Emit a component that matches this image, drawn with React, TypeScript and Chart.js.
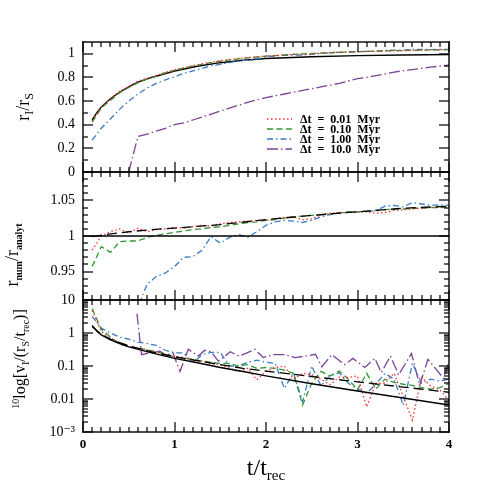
import React, { useEffect, useRef } from 'react';
import { Chart, registerables } from 'chart.js';

Chart.register(...registerables);

// ---------- data ----------
const T = [0.1, 0.2, 0.3, 0.4, 0.5, 0.6, 0.7, 0.8, 0.9, 1.0, 1.1, 1.2, 1.3, 1.4, 1.5, 1.6, 1.7, 1.8, 1.9, 2.0,
  2.1, 2.2, 2.3, 2.4, 2.5, 2.6, 2.7, 2.8, 2.9, 3.0, 3.1, 3.2, 3.3, 3.4, 3.5, 3.6, 3.7, 3.8, 3.9, 4.0];
const T_PURPLE = [0.5, 0.6, 0.7, 0.8, 0.9, 1.0, 1.1, 1.2, 1.3, 1.4, 1.5, 1.6, 1.7, 1.8, 1.9, 2.0,
  2.1, 2.2, 2.3, 2.4, 2.5, 2.6, 2.7, 2.8, 2.9, 3.0, 3.1, 3.2, 3.3, 3.4, 3.5, 3.6, 3.7, 3.8, 3.9, 4.0];

const LEGEND_LABELS = ['\u0394t = 0.01 Myr', '\u0394t = 0.10 Myr', '\u0394t = 1.00 Myr', '\u0394t = 10.0 Myr'];

// top panel: r_I / r_S
const R_ANALYTIC_T = [0.1, 0.15, 0.2, 0.3, 0.4, 0.5, 0.6, 0.75, 1.0, 1.25, 1.5, 1.75, 2.0, 2.5, 3.0, 3.5, 4.0];
const R_ANALYTIC = [0.44, 0.5, 0.55, 0.62, 0.675, 0.72, 0.76, 0.8, 0.855, 0.895, 0.925, 0.945, 0.96, 0.975, 0.985, 0.99, 0.994];
const RED_R = [0.431, 0.55, 0.624, 0.682, 0.723, 0.768, 0.792, 0.817, 0.843, 0.865, 0.882, 0.9, 0.916, 0.928, 0.941, 0.952,
  0.961, 0.968, 0.975, 0.981, 0.986, 0.991, 0.995, 0.994, 0.998, 1.006, 1.01, 1.013, 1.015, 1.018, 1.02, 1.02, 1.022,
  1.025, 1.027, 1.029, 1.031, 1.033, 1.034, 1.036];
const GREEN_R = [0.421, 0.542, 0.606, 0.67, 0.715, 0.755, 0.785, 0.811, 0.838, 0.859, 0.878, 0.896, 0.911, 0.926, 0.937,
  0.948, 0.958, 0.966, 0.973, 0.981, 0.985, 0.99, 0.995, 0.999, 1.003, 1.006, 1.009, 1.013, 1.016, 1.018, 1.021, 1.023,
  1.025, 1.027, 1.028, 1.03, 1.031, 1.033, 1.033, 1.035];
const BLUE_R = [0.27, 0.37, 0.45, 0.53, 0.6, 0.66, 0.71, 0.75, 0.78, 0.805, 0.835, 0.855, 0.875, 0.9, 0.91, 0.925, 0.94,
  0.945, 0.958, 0.974, 0.982, 0.987, 0.989, 0.99, 0.996, 1.003, 1.008, 1.013, 1.015, 1.018, 1.02, 1.021, 1.029, 1.032,
  1.031, 1.038, 1.037, 1.036, 1.037, 1.037];
const PURPLE_R = [0.0, 0.3, 0.32, 0.345, 0.37, 0.4, 0.415, 0.44, 0.465, 0.49, 0.515, 0.54, 0.565, 0.59, 0.61, 0.63, 0.645,
  0.66, 0.675, 0.69, 0.705, 0.72, 0.735, 0.75, 0.77, 0.79, 0.8, 0.815, 0.83, 0.845, 0.857, 0.867, 0.877, 0.887, 0.896, 0.905];

// middle panel: r_num / r_analyt
const UNITY_T = [0, 4];
const UNITY = [1, 1];
const Q_DASH_T = [0.1, 0.25, 0.5, 0.75, 1.0, 1.5, 2.0, 2.5, 3.0, 3.5, 4.0];
const Q_DASH = [0.999, 1.002, 1.006, 1.009, 1.011, 1.016, 1.023, 1.029, 1.034, 1.039, 1.042];
const RED_Q = [0.98, 1.0, 1.006, 1.01, 1.004, 1.011, 1.006, 1.009, 1.01, 1.012, 1.011, 1.013, 1.015, 1.014, 1.017, 1.019,
  1.02, 1.021, 1.022, 1.022, 1.024, 1.026, 1.027, 1.023, 1.024, 1.03, 1.032, 1.033, 1.033, 1.034, 1.034, 1.032, 1.033,
  1.036, 1.037, 1.038, 1.039, 1.04, 1.041, 1.042];
const GREEN_Q = [0.957, 0.985, 0.977, 0.992, 0.993, 0.993, 0.998, 1.001, 1.003, 1.005, 1.007, 1.009, 1.01, 1.012, 1.013,
  1.015, 1.017, 1.019, 1.02, 1.022, 1.023, 1.025, 1.027, 1.028, 1.029, 1.03, 1.031, 1.033, 1.034, 1.034, 1.035, 1.036,
  1.037, 1.038, 1.038, 1.039, 1.039, 1.04, 1.04, 1.041];
const BLUE_Q = [0.61, 0.7, 0.76, 0.8, 0.83, 0.9, 0.932, 0.943, 0.948, 0.957, 0.97, 0.971, 0.98, 0.999, 0.99, 0.998, 1.002,
  0.998, 1.006, 1.015, 1.02, 1.022, 1.021, 1.019, 1.022, 1.027, 1.03, 1.033, 1.033, 1.034, 1.035, 1.035, 1.042, 1.043,
  1.041, 1.047, 1.045, 1.043, 1.044, 1.043];

// bottom panel: velocity
const V_ANALYTIC_T = [0.1, 0.15, 0.2, 0.3, 0.4, 0.5, 0.75, 1.0, 1.25, 1.5, 1.75, 2.0, 2.5, 3.0, 3.5, 4.0];
const V_ANALYTIC = [1.7, 1.15, 0.88, 0.62, 0.48, 0.38, 0.25, 0.17, 0.125, 0.09, 0.068, 0.05, 0.029, 0.0175, 0.0107, 0.0066];
const V_DASH_T = [0.1, 0.2, 0.3, 0.4, 0.5, 0.75, 1.0, 1.25, 1.5, 1.75, 2.0, 2.5, 3.0, 3.5, 4.0];
const V_DASH = [1.55, 0.92, 0.65, 0.51, 0.41, 0.27, 0.19, 0.145, 0.11, 0.085, 0.07, 0.048, 0.033, 0.023, 0.016];
const RED_V = [4.8, 1.1, 0.7, 0.5, 0.4, 0.33, 0.3, 0.26, 0.22, 0.2, 0.18, 0.15, 0.14, 0.12, 0.11, 0.085, 0.067, 0.085,
  0.038, 0.07, 0.09, 0.1, 0.04, 0.06, 0.055, 0.04, 0.027, 0.046, 0.045, 0.05, 0.0058, 0.03, 0.03, 0.06, 0.012, 0.0023,
  0.045, 0.025, 0.019, 0.009];
const GREEN_V = [5.5, 1.3, 0.75, 0.47, 0.38, 0.35, 0.31, 0.27, 0.23, 0.19, 0.17, 0.16, 0.14, 0.13, 0.12, 0.12, 0.1, 0.11,
  0.085, 0.09, 0.085, 0.075, 0.06, 0.0066, 0.03, 0.069, 0.05, 0.07, 0.04, 0.019, 0.06, 0.02, 0.04, 0.032, 0.028, 0.026,
  0.022, 0.02, 0.022, 0.03];
const BLUE_V = [3.2, 1.4, 1.0, 0.75, 0.65, 0.53, 0.48, 0.42, 0.3, 0.25, 0.25, 0.12, 0.22, 0.26, 0.26, 0.1, 0.1, 0.13,
  0.15, 0.13, 0.12, 0.021, 0.062, 0.0083, 0.1, 0.025, 0.05, 0.062, 0.03, 0.02, 0.015, 0.028, 0.06, 0.04, 0.0065, 0.12,
  0.03, 0.04, 0.035, 0.04];
const PURPLE_V_T = [0.59, 0.64, 0.73, 0.84, 0.91, 0.98, 1.06, 1.15, 1.26, 1.33, 1.4, 1.48, 1.61, 1.7, 1.78, 1.88, 1.97,
  2.08, 2.21, 2.32, 2.43, 2.54, 2.61, 2.72, 2.86, 2.95, 3.08, 3.19, 3.26, 3.36, 3.45, 3.59, 3.68, 3.77, 3.94, 4.0];
const PURPLE_V = [3.8, 0.22, 0.25, 0.28, 0.21, 0.26, 0.069, 0.32, 0.2, 0.3, 0.27, 0.14, 0.27, 0.2, 0.24, 0.32, 0.18,
  0.22, 0.22, 0.18, 0.2, 0.226, 0.095, 0.22, 0.11, 0.17, 0.09, 0.17, 0.063, 0.2, 0.054, 0.24, 0.026, 0.16, 0.042, 0.14];

// ticks
const X_TICKS = [0, 1, 2, 3, 4];
const TOP_TICKS = [0, 0.2, 0.4, 0.6, 0.8, 1];
const MID_TICKS = [0.95, 1, 1.05];
const BOT_TICKS = [0.001, 0.01, 0.1, 1, 10];
const BOT_TICK_LABELS = ['10\u207B\u00B3', '0.01', '0.1', '1', '10'];

// ---------- styles ----------
const RED = '#ff3030';
const GREEN = '#2f962f';
const BLUE = '#3b7cc2';
const PURPLE = '#7b4398';
const BLACK = '#000000';
const DOT = [1.5, 2.5];
const DASH = [6, 3.5];
const DASHDOT = [6, 3, 1.5, 3];
const LONGDASHDOT = [11, 3, 1.5, 3];
const LONGDASH = [10, 5];
const SERIF = '"Liberation Serif", "DejaVu Serif", serif';

const pts = (xs: number[], ys: number[]) => xs.map((x, i) => ({ x, y: ys[i] }));

type Seg = { t: string; f: string; dy?: number };

function drawSegs(ctx: CanvasRenderingContext2D, segs: Seg[], cx: number, cy: number, rotate: boolean) {
  ctx.save();
  ctx.translate(cx, cy);
  if (rotate) ctx.rotate(-Math.PI / 2);
  ctx.textAlign = 'left';
  ctx.textBaseline = 'alphabetic';
  ctx.fillStyle = '#000';
  let w = 0;
  for (const s of segs) {
    ctx.font = s.f;
    w += ctx.measureText(s.t).width;
  }
  let x = -w / 2;
  for (const s of segs) {
    ctx.font = s.f;
    ctx.fillText(s.t, x, s.dy || 0);
    x += ctx.measureText(s.t).width;
  }
  ctx.restore();
}

function drawFramesAndTicks(chart: any) {
  const ctx: CanvasRenderingContext2D = chart.ctx;
  const a = chart.chartArea;
  const xs = chart.scales.x;
  const L = Math.round(a.left);
  const R = Math.round(a.right);
  const panels = [
    { s: chart.scales.yTop, major: TOP_TICKS, minor: [0.1, 0.3, 0.5, 0.7, 0.9] },
    { s: chart.scales.yMid, major: MID_TICKS, minor: [] as number[] },
    { s: chart.scales.yBot, major: BOT_TICKS, minor: [] as number[] },
  ];
  for (let k = 92; k <= 108; k++) if (k !== 95 && k !== 100 && k !== 105) panels[1].minor.push(k / 100);
  for (let e = -3; e <= 0; e++) for (let m = 2; m <= 9; m++) panels[2].minor.push(m * Math.pow(10, e));

  ctx.save();
  ctx.fillStyle = '#000';
  const lw = 1.4;
  for (const p of panels) {
    const s = p.s;
    const top = Math.round(s.top);
    const bot = Math.round(s.bottom);
    // frame
    ctx.fillRect(L - lw / 2, top - lw / 2, R - L + lw, lw);
    ctx.fillRect(L - lw / 2, bot - lw / 2, R - L + lw, lw);
    ctx.fillRect(L - lw / 2, top - lw / 2, lw, bot - top + lw);
    ctx.fillRect(R - lw / 2, top - lw / 2, lw, bot - top + lw);
    // x ticks
    for (let k = 0; k <= 40; k++) {
      const px = Math.round(xs.getPixelForValue(k / 10));
      const len = k % 10 === 0 ? 10 : 5;
      ctx.fillRect(px - 0.6, bot - len, 1.2, len);
      ctx.fillRect(px - 0.6, top, 1.2, len);
    }
    // y ticks
    const yt = (v: number, len: number) => {
      const py = Math.round(s.getPixelForValue(v));
      ctx.fillRect(L, py - 0.6, len, 1.2);
      ctx.fillRect(R - len, py - 0.6, len, 1.2);
    };
    p.major.forEach((v: number) => yt(v, 10));
    p.minor.forEach((v: number) => yt(v, 5));
  }
  ctx.restore();
}

const decorPlugin = {
  id: 'decor',
  beforeDatasetDraw(chart: any, args: any) {
    const meta = chart.getDatasetMeta(args.index);
    const s = chart.scales[meta.yAxisID];
    const a = chart.chartArea;
    const ctx = chart.ctx;
    ctx.save();
    ctx.beginPath();
    ctx.rect(a.left, s.top, a.right - a.left, s.bottom - s.top);
    ctx.clip();
  },
  afterDatasetDraw(chart: any) {
    chart.ctx.restore();
  },
  afterDraw(chart: any) {
    const ctx: CanvasRenderingContext2D = chart.ctx;
    drawFramesAndTicks(chart);

    // legend
    ctx.save();
    const rows = [119, 129, 139, 149];
    for (let i = 0; i < 4; i++) {
      const ds = chart.data.datasets[i];
      ctx.beginPath();
      ctx.strokeStyle = ds.borderColor;
      ctx.lineWidth = 1.3;
      ctx.setLineDash(ds.borderDash || []);
      ctx.moveTo(267, rows[i]);
      ctx.lineTo(292, rows[i]);
      ctx.stroke();
      ctx.setLineDash([]);
      ctx.fillStyle = '#000';
      ctx.font = 'bold 12px ' + SERIF;
      ctx.textBaseline = 'middle';
      ctx.textAlign = 'left';
      ctx.fillText(LEGEND_LABELS[i].replace(/ /g, '  '), 300, rows[i] + 0.5);
    }
    ctx.restore();

    // axis titles
    const big = '18px ' + SERIF;
    const sub = '12px ' + SERIF;
    drawSegs(ctx, [
      { t: 'r', f: big }, { t: 'I', f: sub, dy: 4 }, { t: '/', f: big }, { t: 'r', f: big }, { t: 'S', f: sub, dy: 4 },
    ], 29, (chart.scales.yTop.top + chart.scales.yTop.bottom) / 2, true);
    drawSegs(ctx, [
      { t: 'r', f: big }, { t: 'num', f: 'bold 10px ' + SERIF, dy: 4 }, { t: '/', f: big }, { t: 'r', f: big },
      { t: 'analyt', f: 'bold 10px ' + SERIF, dy: 4 },
    ], 18, 255, true);
    const mid = '16px ' + SERIF;
    const sm = '10px ' + SERIF;
    drawSegs(ctx, [
      { t: '10', f: sm, dy: -6 }, { t: 'log[v', f: mid }, { t: 'I', f: sm, dy: 4 }, { t: '/(r', f: mid },
      { t: 'S', f: sm, dy: 4 }, { t: '/t', f: mid }, { t: 'rec', f: sm, dy: 4 }, { t: ')]', f: mid },
    ], 25, 359, true);
    drawSegs(ctx, [
      { t: 't/t', f: '24px ' + SERIF }, { t: 'rec', f: '15px ' + SERIF, dy: 5 },
    ], 266, 475, false);
  },
};

export default function App() {
  const ref = useRef<HTMLCanvasElement>(null);
  useEffect(() => {
    if (!ref.current) return;
    Chart.defaults.font.family = SERIF;
    const line = (label: string, data: any[], yAxisID: string, color: string, dash: number[], width = 1.3) => ({
      label, data, yAxisID, borderColor: color, borderDash: dash, borderWidth: width,
      pointRadius: 0, fill: false, tension: 0, backgroundColor: color,
    });
    const yTicks = (size: number, cb: (v: any) => string) => ({
      color: '#000', font: { size, family: SERIF }, padding: 8, autoSkip: false, callback: cb,
    });
    const chart = new Chart(ref.current, {
      type: 'line',
      data: {
        datasets: [
          line(LEGEND_LABELS[0], pts(T, RED_R), 'yTop', RED, DOT),
          line(LEGEND_LABELS[1], pts(T, GREEN_R), 'yTop', GREEN, DASH),
          line(LEGEND_LABELS[2], pts(T, BLUE_R), 'yTop', BLUE, DASHDOT),
          line(LEGEND_LABELS[3], pts(T_PURPLE, PURPLE_R), 'yTop', PURPLE, LONGDASHDOT),
          line('analytic r', pts(R_ANALYTIC_T, R_ANALYTIC), 'yTop', BLACK, [], 1.4),
          line('unity', pts(UNITY_T, UNITY), 'yMid', BLACK, [], 1.4),
          line('analytic alt', pts(Q_DASH_T, Q_DASH), 'yMid', BLACK, LONGDASH, 1.3),
          line('q 0.01', pts(T, RED_Q), 'yMid', RED, DOT),
          line('q 0.10', pts(T, GREEN_Q), 'yMid', GREEN, DASH),
          line('q 1.00', pts(T, BLUE_Q), 'yMid', BLUE, DASHDOT),
          line('v analytic', pts(V_ANALYTIC_T, V_ANALYTIC), 'yBot', BLACK, [], 1.4),
          line('v analytic alt', pts(V_DASH_T, V_DASH), 'yBot', BLACK, LONGDASH, 1.3),
          line('v 0.01', pts(T, RED_V), 'yBot', RED, DOT),
          line('v 0.10', pts(T, GREEN_V), 'yBot', GREEN, DASH),
          line('v 1.00', pts(T, BLUE_V), 'yBot', BLUE, DASHDOT),
          line('v 10.0', pts(PURPLE_V_T, PURPLE_V), 'yBot', PURPLE, LONGDASHDOT),
        ],
      },
      options: {
        animation: false,
        responsive: false,
        events: [],
        layout: { padding: { top: 42, right: 42, left: 0, bottom: 0 } },
        plugins: { legend: { display: false }, tooltip: { enabled: false }, title: { display: false } },
        scales: {
          x: {
            type: 'linear', min: 0, max: 4, position: 'bottom',
            grid: { display: false, drawTicks: false }, border: { display: false },
            afterBuildTicks: (s: any) => { s.ticks = X_TICKS.map((v) => ({ value: v })); },
            afterFit: (s: any) => { s.height = 59; },
            ticks: {
              color: '#000', font: { size: 13, family: SERIF, weight: 'bold' }, padding: 5, maxRotation: 0,
              autoSkip: false, callback: (v: any) => String(v),
            },
          },
          yBot: {
            type: 'logarithmic', min: 0.001, max: 10, position: 'left', stack: 'panels', stackWeight: 132, weight: 1,
            grid: { display: false, drawTicks: false }, border: { display: false },
            afterBuildTicks: (s: any) => { s.ticks = BOT_TICKS.map((v) => ({ value: v })); },
            afterFit: (s: any) => { s.width = 83; },
            ticks: yTicks(14, (v: any) => {
              const i = BOT_TICKS.findIndex((b) => Math.abs(b - v) / b < 1e-6);
              return i >= 0 ? BOT_TICK_LABELS[i] : '';
            }),
          },
          yMid: {
            type: 'linear', min: 0.91, max: 1.09, position: 'left', stack: 'panels', stackWeight: 128, weight: 2,
            grid: { display: false, drawTicks: false }, border: { display: false },
            afterBuildTicks: (s: any) => { s.ticks = MID_TICKS.map((v) => ({ value: v })); },
            afterFit: (s: any) => { s.width = 83; },
            ticks: yTicks(14, (v: any) => String(Math.round(v * 100) / 100)),
          },
          yTop: {
            type: 'linear', min: 0, max: 1.1, position: 'left', stack: 'panels', stackWeight: 130, weight: 3,
            grid: { display: false, drawTicks: false }, border: { display: false },
            afterBuildTicks: (s: any) => { s.ticks = TOP_TICKS.map((v) => ({ value: v })); },
            afterFit: (s: any) => { s.width = 83; },
            ticks: yTicks(14, (v: any) => String(Math.round(v * 10) / 10)),
          },
        },
      } as any,
      plugins: [decorPlugin as any],
    });
    return () => chart.destroy();
  }, []);
  return (
    <div style={{ position: 'fixed', left: 0, top: 0, width: 491, height: 491, background: '#fff' }}>
      <canvas ref={ref} width={491} height={491} style={{ display: 'block' }} />
    </div>
  );
}
